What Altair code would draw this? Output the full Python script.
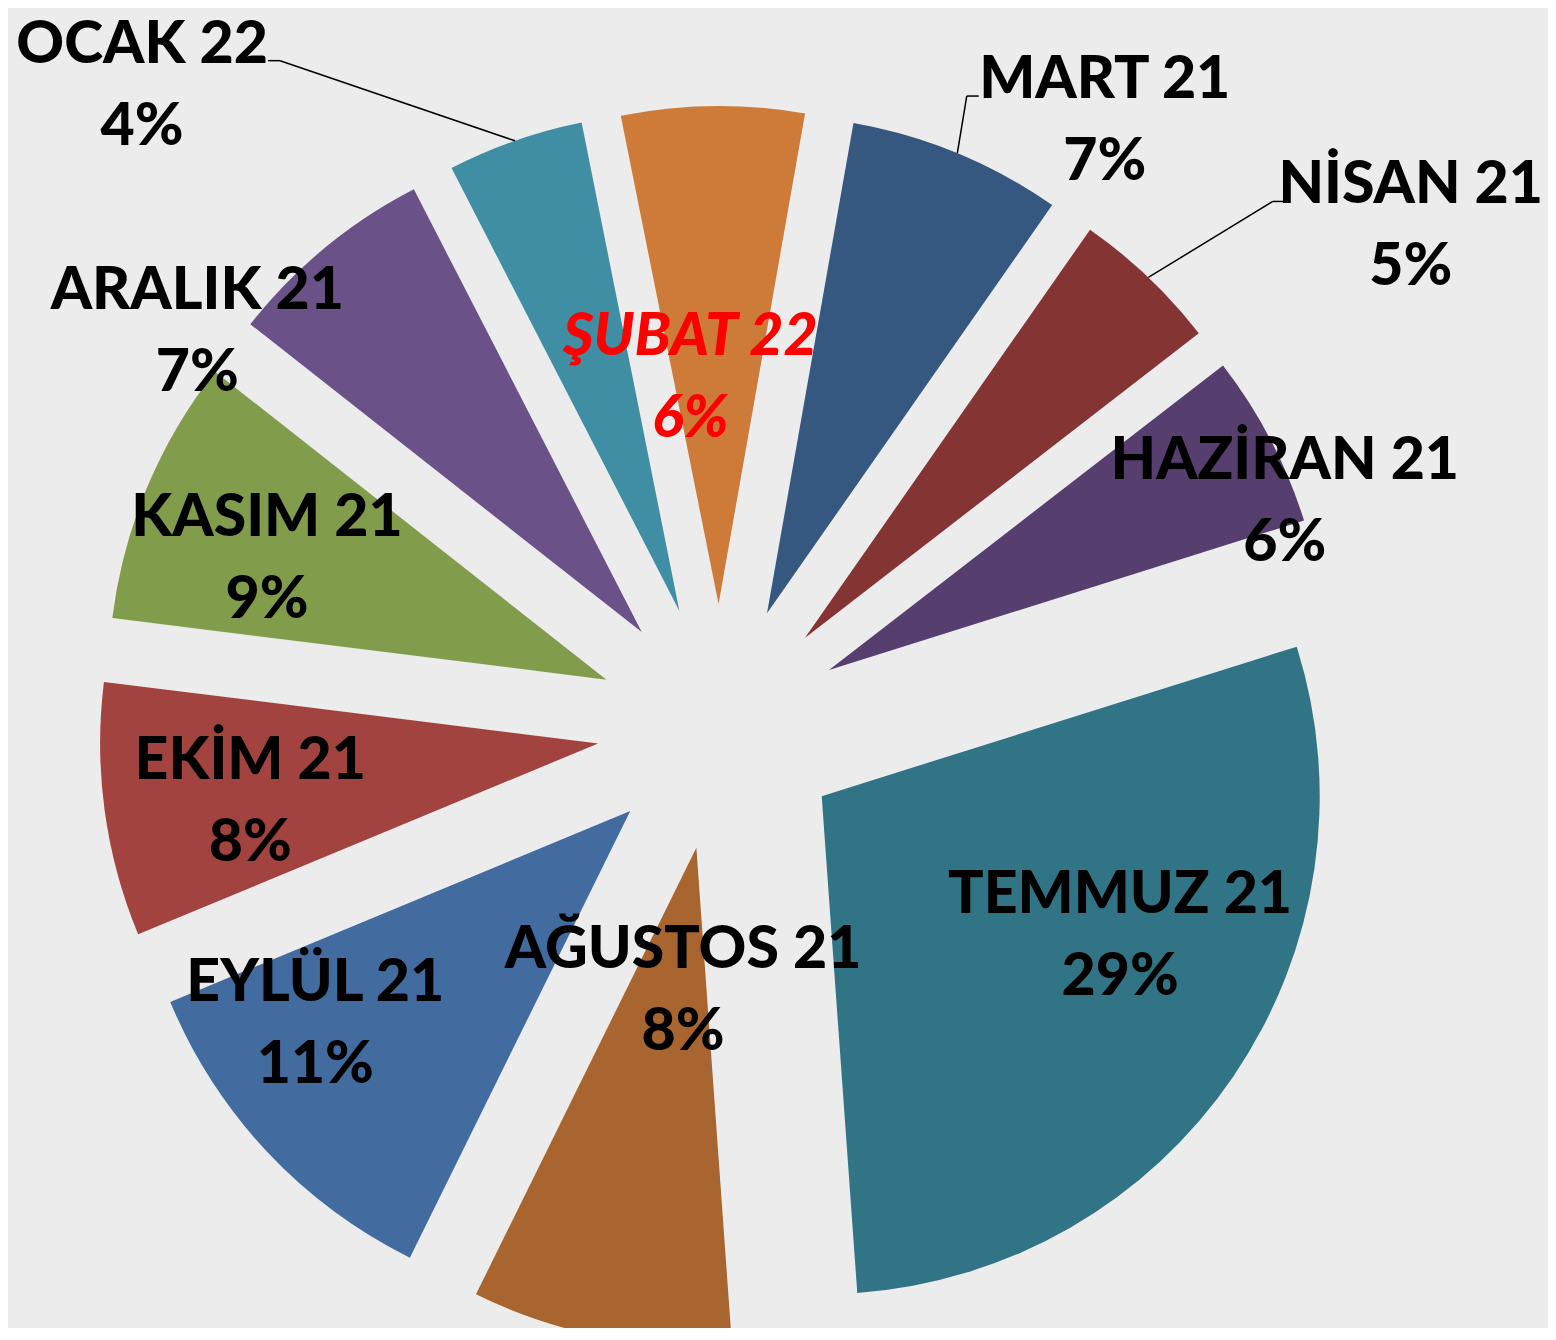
import math
import altair as alt
import pandas as pd

# ---- data ----
months = ["MART 21", "NİSAN 21", "HAZİRAN 21", "TEMMUZ 21", "AĞUSTOS 21", "EYLÜL 21",
          "EKİM 21", "KASIM 21", "ARALIK 21", "OCAK 22", "ŞUBAT 22"]
values = [6.9, 4.8, 5.6, 28.6, 8.4, 11.4, 8.2, 8.6, 6.8, 4.4, 5.9]

# ---- styling / layout ----
colors = ["#365880", "#843533", "#563f6f", "#317486", "#a8652f", "#426b9f",
          "#a34340", "#819c4b", "#6a5288", "#3f8ea4", "#ce7b39"]
label_dist = [722, 856, 610, 449, 262, 499, 475, 485, 658, 867, 355]      # px from pie centre
label_angle = [32.2, 53.8, 67.8, 117.0, 188.1, 234.2, 261.5, 290.9, 307.4, 318.2, 355.2]  # deg
leader = [1, 1, 0, 0, 0, 0, 0, 0, 0, 1, 0]

W, H = 1540, 1320
CX, CY = 712, 719
R = 498
EXPLODE = 123
ROT = math.radians(10)
FONT = "Lato"
FS = 59
LH = 82

df = pd.DataFrame({
    "i": list(range(len(months))),
    "month": months,
    "value": values,
    "lr": label_dist,
    "la": label_angle,
    "leader": leader,
})

base = alt.Chart(df).transform_joinaggregate(
    total="sum(value)"
).transform_window(
    cum="sum(value)", sort=[alt.SortField("i")], frame=[None, 0]
).transform_calculate(
    start="(datum.cum - datum.value) / datum.total",
    end="datum.cum / datum.total",
    mid=f"{ROT} + 2 * PI * (datum.cum - datum.value / 2) / datum.total",
    cx=f"{CX} + {EXPLODE} * sin(datum.mid)",
    cy=f"{CY} - {EXPLODE} * cos(datum.mid)",
    ax=f"datum.cx + {R} * sin(datum.mid)",
    ay=f"datum.cy - {R} * cos(datum.mid)",
    lx=f"{CX} + datum.lr * sin(datum.la * PI / 180)",
    ly=f"{CY} - datum.lr * cos(datum.la * PI / 180)",
    side="datum.lx > datum.ax ? -1 : 1",
    ex="datum.lx + datum.side * 126",
    bx="datum.lx + datum.side * 138",
    ey="datum.ly - 20",
    pct="format(datum.value / datum.total, '.0%')",
    label="datum.month + '\\n' + datum.pct",
)

arcs = base.mark_arc(outerRadius=R, innerRadius=0).encode(
    theta=alt.Theta("start:Q", scale=alt.Scale(domain=[0, 1], range=[ROT, ROT + 2 * math.pi]), stack=None),
    theta2="end:Q",
    x=alt.X("cx:Q", scale=None, axis=None),
    y=alt.Y("cy:Q", scale=None, axis=None),
    color=alt.Color("month:N", scale=alt.Scale(domain=months, range=colors), legend=None),
)

lead1 = base.transform_filter("datum.leader == 1").mark_rule(color="#000000", strokeWidth=1.5).encode(
    x=alt.X("ax:Q", scale=None, axis=None), y=alt.Y("ay:Q", scale=None, axis=None),
    x2="bx:Q", y2="ey:Q",
)
lead2 = base.transform_filter("datum.leader == 1").mark_rule(color="#000000", strokeWidth=1.5).encode(
    x=alt.X("bx:Q", scale=None, axis=None), y=alt.Y("ey:Q", scale=None, axis=None),
    x2="ex:Q", y2="ey:Q",
)

txt_common = dict(font=FONT, fontSize=FS, fontWeight=900, lineBreak="\n", lineHeight=LH,
                  align="center", baseline="middle", dy=-36)
labels = base.transform_filter("datum.month != 'ŞUBAT 22'").mark_text(color="#000000", **txt_common).encode(
    x=alt.X("lx:Q", scale=None, axis=None), y=alt.Y("ly:Q", scale=None, axis=None), text="label:N",
)
label_red = base.transform_filter("datum.month == 'ŞUBAT 22'").mark_text(
    color="#ff0000", fontStyle="italic", **txt_common).encode(
    x=alt.X("lx:Q", scale=None, axis=None), y=alt.Y("ly:Q", scale=None, axis=None), text="label:N",
)

chart = alt.layer(arcs, lead1, lead2, labels, label_red).properties(
    width=W, height=H, padding=0, autosize=alt.AutoSizeParams(type="none"),
    background="#ececec",
).configure_view(stroke=None)

chart.save("out.html", embed_options={"renderer": "svg", "actions": False})
